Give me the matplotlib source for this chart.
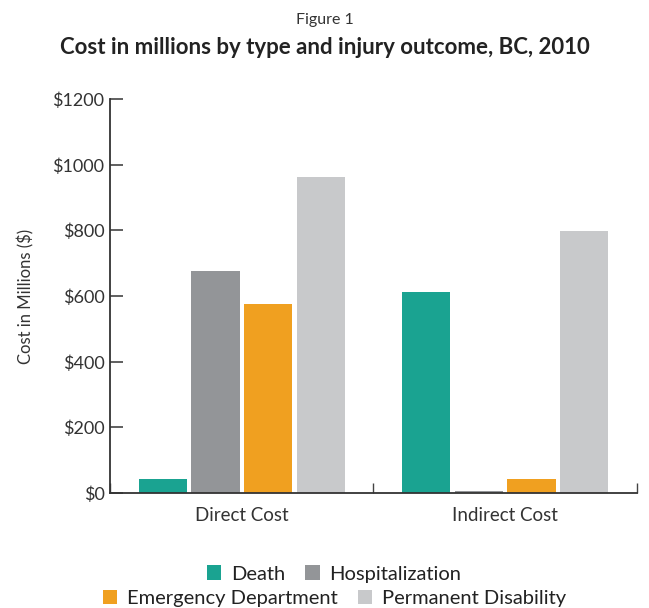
import numpy as np
import matplotlib
matplotlib.use('Agg')
import matplotlib.pyplot as plt
from matplotlib.patches import Patch

categories = ['Direct Cost', 'Indirect Cost']
outcomes = ['Death', 'Hospitalization', 'Emergency Department', 'Permanent Disability']
death = [43, 613]
hospitalization = [677, 7]
emergency = [576, 43]
disability = [963, 799]
yticks = [0, 200, 400, 600, 800, 1000, 1200]

colors = ['#1aa391', '#939598', '#f0a020', '#c8c9cb']

plt.rcParams['font.family'] = ['Lato', 'DejaVu Sans']

fig = plt.figure(figsize=(6.49, 6.08), dpi=100)
ax = fig.add_axes([0.1695, 0.189, 0.812, 0.648])

x = np.arange(len(categories))
width = 0.183
step = 0.2
series = [death, hospitalization, emergency, disability]
for i, (vals, c) in enumerate(zip(series, colors)):
    ax.bar(x + (i - 1.5) * step, vals, width, color=c, label=outcomes[i], zorder=2)

ax.set_xlim(-0.5, 1.5)
ax.set_ylim(0, 1200)
ax.set_yticks(yticks)
ax.set_yticklabels([f'${v}' for v in yticks], color='#333333', fontsize=13)
ax.tick_params(axis='y', direction='in', length=9, width=1.2, color='#444444', pad=4)

ax.set_xticks([-0.5, 0.5, 1.5])
ax.set_xticklabels([])
ax.tick_params(axis='x', direction='in', length=7, width=1.0, color='#444444')
ax.set_xticks(x, minor=True)
ax.set_xticklabels(categories, minor=True, color='#333333', fontsize=13.5)
ax.tick_params(axis='x', which='minor', length=0, pad=10)

for sp in ['top', 'right']:
    ax.spines[sp].set_visible(False)
for sp in ['left', 'bottom']:
    ax.spines[sp].set_color('#333333')
    ax.spines[sp].set_linewidth(1.3)

ax.set_ylabel('Cost in Millions ($)', color='#333333', fontsize=12, labelpad=13)

fig.text(0.5, 0.967, 'Figure 1', ha='center', va='center', fontsize=11.5, color='#333333')
fig.text(0.5, 0.922, 'Cost in millions by type and injury outcome, BC, 2010',
         ha='center', va='center', fontsize=16, fontweight='bold', color='#222222')

handles = [Patch(facecolor=c, label=o) for c, o in zip(colors, outcomes)]
leg1 = fig.legend(handles=handles[:2], loc='center', bbox_to_anchor=(0.515, 0.056), ncol=2,
                  frameon=False, fontsize=14.5, handlelength=0.7, handleheight=0.7,
                  handletextpad=0.5, columnspacing=1.0, labelcolor='#222222')
leg2 = fig.legend(handles=handles[2:], loc='center', bbox_to_anchor=(0.515, 0.016), ncol=2,
                  frameon=False, fontsize=14.5, handlelength=0.7, handleheight=0.7,
                  handletextpad=0.5, columnspacing=1.0, labelcolor='#222222')

fig.savefig('out.png', dpi=100)
